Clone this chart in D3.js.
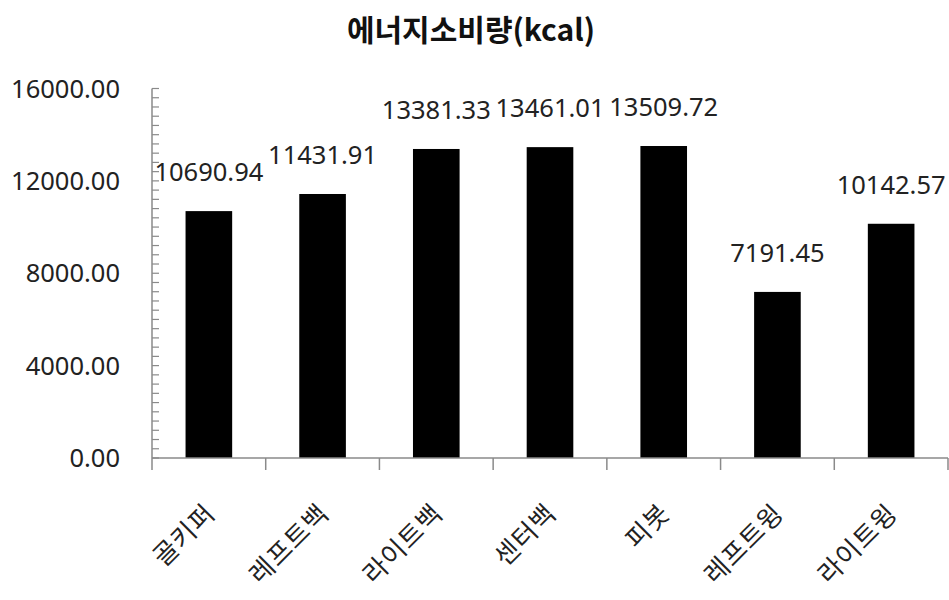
<!DOCTYPE html>
<html>
<head>
<meta charset="utf-8">
<script src="https://cdn.jsdelivr.net/npm/d3@7"></script>
<style>
  html, body { margin: 0; padding: 0; background: #fff; }
  svg { display: block; }
</style>
</head>
<body>
<svg id="chart" width="949" height="600"></svg>
<script>
// Energy expenditure by playing position
const positions = ["골키퍼", "레프트백", "라이트백", "센터백", "피봇", "레프트윙", "라이트윙"];
const energy = [10690.94, 11431.91, 13381.33, 13461.01, 13509.72, 7191.45, 10142.57];
const yTickValues = [0, 4000, 8000, 12000, 16000];
const chartTitle = "에너지소비량(kcal)";

const svg = d3.select("#chart");
const axisColor = "#8a8a8a";
const numberFont = "'Noto Sans', 'Open Sans', sans-serif";
const plot = { left: 152, right: 948, top: 88.5, bottom: 458 };

const x = d3.scaleBand().domain(positions).range([plot.left, plot.right]).padding(0);
const y = d3.scaleLinear().domain([0, 16000]).range([plot.bottom, plot.top]);
const barWidth = x.bandwidth() * 0.41;

// Title
svg.append("text")
  .attr("x", 471).attr("y", 41)
  .attr("text-anchor", "middle")
  .attr("font-family", "'Noto Sans CJK KR', sans-serif")
  .attr("font-weight", "bold")
  .attr("font-size", 30)
  .attr("fill", "#111")
  .text(chartTitle);

// Bars
svg.append("g").selectAll("rect")
  .data(energy)
  .join("rect")
  .attr("x", (d, i) => x(positions[i]) + (x.bandwidth() - barWidth) / 2)
  .attr("y", d => y(d))
  .attr("width", barWidth)
  .attr("height", d => y(0) - y(d))
  .attr("fill", "#000");

// Y axis: fine inward ticks every 400 and labelled values every 4000
const yAxis = svg.append("g").attr("transform", `translate(${plot.left},0)`);
yAxis.append("line")
  .attr("x1", 0).attr("x2", 0)
  .attr("y1", y(16000)).attr("y2", y(0))
  .attr("stroke", axisColor).attr("stroke-width", 1.5);
yAxis.selectAll("line.minor")
  .data(d3.range(0, 16001, 400))
  .join("line")
  .attr("class", "minor")
  .attr("x1", 0).attr("x2", 7)
  .attr("y1", d => y(d)).attr("y2", d => y(d))
  .attr("stroke", axisColor).attr("stroke-width", 1.2);
yAxis.selectAll("text")
  .data(yTickValues)
  .join("text")
  .attr("x", -32)
  .attr("y", d => y(d))
  .attr("dy", "0.36em")
  .attr("text-anchor", "end")
  .attr("font-family", numberFont)
  .attr("font-size", 25.5)
  .attr("fill", "#222")
  .text(d => d3.format(".2f")(d));

// X axis with ticks at category boundaries
const xAxis = svg.append("g");
xAxis.append("line")
  .attr("x1", plot.left).attr("x2", plot.right)
  .attr("y1", y(0)).attr("y2", y(0))
  .attr("stroke", axisColor).attr("stroke-width", 1.5);
const boundaries = positions.map(p => x(p)).concat([x(positions[positions.length - 1]) + x.bandwidth()]);
xAxis.selectAll("line.tick")
  .data(boundaries)
  .join("line")
  .attr("class", "tick")
  .attr("x1", d => d).attr("x2", d => d)
  .attr("y1", y(0)).attr("y2", y(0) + 12)
  .attr("stroke", axisColor).attr("stroke-width", 1.5);

// Rotated category labels
xAxis.selectAll("text")
  .data(positions)
  .join("text")
  .attr("transform", d => `translate(${x(d) + x.bandwidth() / 2 + 8},${y(0) + 57}) rotate(-45)`)
  .attr("text-anchor", "end")
  .attr("font-family", "'Noto Sans CJK KR', sans-serif")
  .attr("font-size", 26)
  .attr("letter-spacing", 1)
  .attr("fill", "#222")
  .text(d => d);

// Value labels above bars
svg.append("g").selectAll("text")
  .data(energy)
  .join("text")
  .attr("x", (d, i) => x(positions[i]) + x.bandwidth() / 2)
  .attr("y", d => y(d) - 30)
  .attr("text-anchor", "middle")
  .attr("font-family", numberFont)
  .attr("font-size", 25.5)
  .attr("fill", "#222")
  .text(d => d3.format(".2f")(d));
</script>
</body>
</html>
